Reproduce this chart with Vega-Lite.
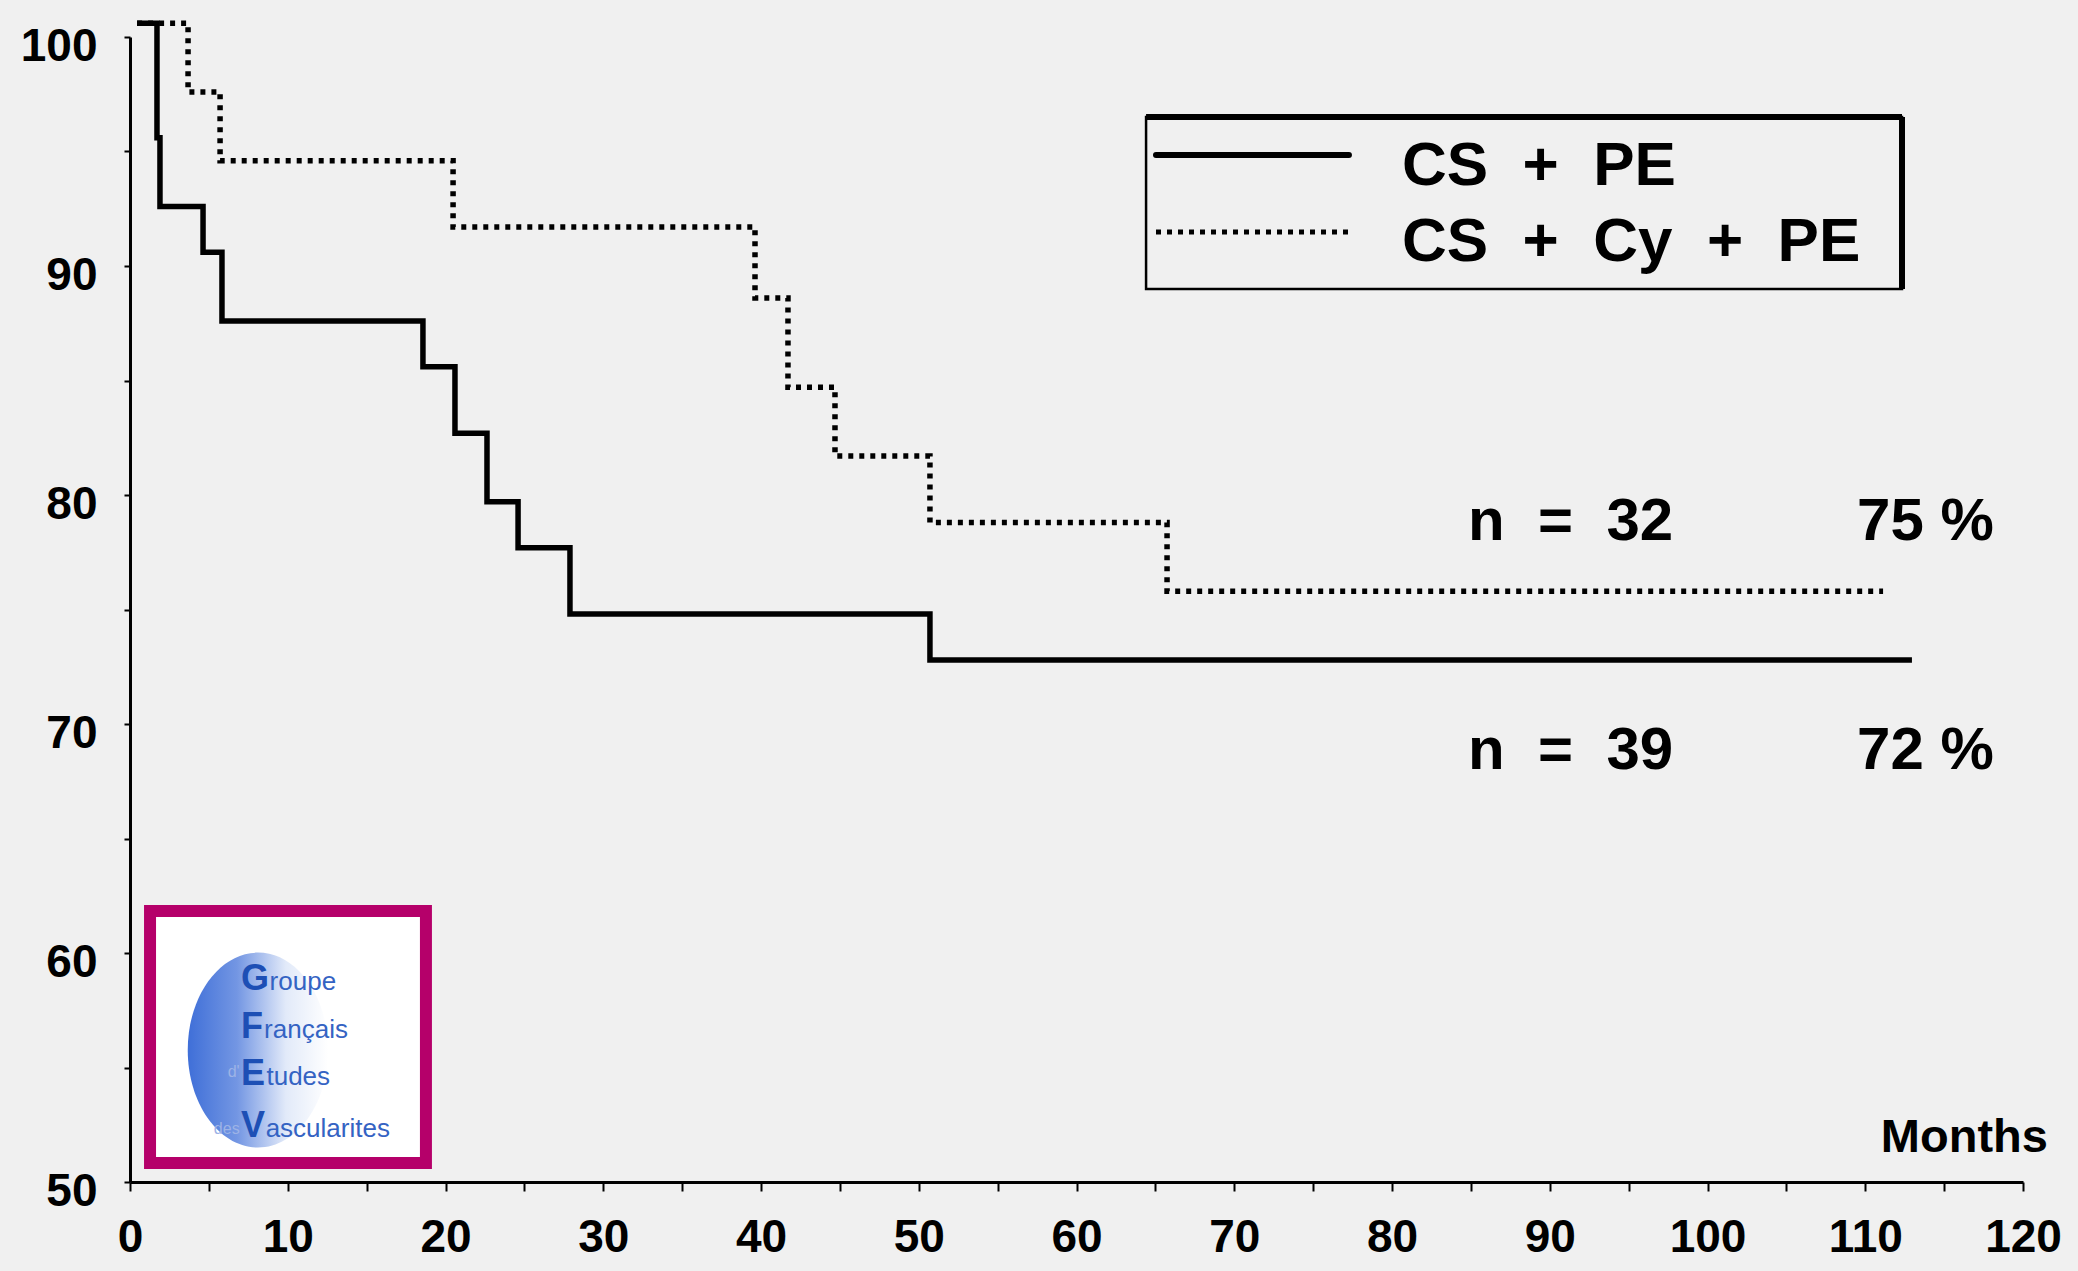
{
  "$schema": "https://vega.github.io/schema/vega-lite/v6.json",
  "width": 1893,
  "height": 1145,
  "autosize": {"type": "none"},
  "padding": {"left": 130, "top": 37, "right": 55, "bottom": 89},
  "background": "#f0f0f0",
  "config": {"view": {"stroke": null}},
  "data": {"values": [{}]},
  "datasets": {
    "km": [
      {"group": "CS + Cy + PE", "month": 0.45, "survival": 100.6},
      {"group": "CS + Cy + PE", "month": 3.68, "survival": 97.6},
      {"group": "CS + Cy + PE", "month": 5.71, "survival": 94.6},
      {"group": "CS + Cy + PE", "month": 20.48, "survival": 91.7},
      {"group": "CS + Cy + PE", "month": 39.62, "survival": 88.6},
      {"group": "CS + Cy + PE", "month": 41.71, "survival": 84.7},
      {"group": "CS + Cy + PE", "month": 44.69, "survival": 81.7},
      {"group": "CS + Cy + PE", "month": 50.71, "survival": 78.8},
      {"group": "CS + Cy + PE", "month": 65.74, "survival": 75.8},
      {"group": "CS + Cy + PE", "month": 111.13, "survival": 75.8},
      {"group": "CS + PE", "month": 0.45, "survival": 100.6},
      {"group": "CS + PE", "month": 1.71, "survival": 95.6},
      {"group": "CS + PE", "month": 1.9, "survival": 92.6},
      {"group": "CS + PE", "month": 4.63, "survival": 90.6},
      {"group": "CS + PE", "month": 5.83, "survival": 87.6},
      {"group": "CS + PE", "month": 18.57, "survival": 85.6},
      {"group": "CS + PE", "month": 20.6, "survival": 82.7},
      {"group": "CS + PE", "month": 22.63, "survival": 79.7},
      {"group": "CS + PE", "month": 24.6, "survival": 77.7},
      {"group": "CS + PE", "month": 27.89, "survival": 74.8},
      {"group": "CS + PE", "month": 50.71, "survival": 72.8},
      {"group": "CS + PE", "month": 112.96, "survival": 72.8}
    ]
  },
  "layer": [
    {
      "data": {"name": "km"},
      "mark": {"type": "line", "interpolate": "step-after", "strokeWidth": 5.5, "color": "black", "strokeCap": "butt"},
      "encoding": {
        "x": {
          "field": "month", "type": "quantitative",
          "scale": {"domain": [0, 120], "nice": false, "zero": false},
          "axis": {
            "values": [0,5,10,15,20,25,30,35,40,45,50,55,60,65,70,75,80,85,90,95,100,105,110,115,120],
            "labelExpr": "datum.value % 10 === 0 ? datum.label : ''",
            "title": null, "grid": false,
            "domainColor": "black", "domainWidth": 3,
            "tickColor": "black", "tickWidth": 2, "tickSize": 9,
            "labelFont": "Liberation Sans", "labelFontWeight": "bold", "labelFontSize": 46, "labelColor": "black",
            "labelPadding": 24, "labelFlush": false, "labelOverlap": false, "labelBound": false
          }
        },
        "y": {
          "field": "survival", "type": "quantitative",
          "scale": {"domain": [50, 100], "nice": false, "zero": false},
          "axis": {
            "values": [50,55,60,65,70,75,80,85,90,95,100],
            "labelExpr": "datum.value % 10 === 0 ? datum.label : ''",
            "title": null, "grid": false,
            "domainColor": "black", "domainWidth": 3,
            "tickColor": "black", "tickWidth": 2, "tickSize": 6,
            "labelFont": "Liberation Sans", "labelFontWeight": "bold", "labelFontSize": 46, "labelColor": "black",
            "labelPadding": 27, "labelOffset": 9, "labelFlush": false, "labelOverlap": false, "labelBound": false
          }
        },
        "strokeDash": {
          "field": "group", "type": "nominal",
          "scale": {"domain": ["CS + Cy + PE", "CS + PE"], "range": [[5, 6], [1, 0]]},
          "legend": null
        }
      }
    },
    {
      "mark": {"type": "rect", "fill": "white", "stroke": "#b5006a", "strokeWidth": 12},
      "encoding": {
        "x": {"datum": 1.27, "type": "quantitative", "scale": {"domain": [0, 120]}},
        "x2": {"datum": 18.76},
        "y": {"datum": 61.83, "type": "quantitative", "scale": {"domain": [50, 100]}},
        "y2": {"datum": 50.83}
      }
    },
    {
      "mark": {
        "type": "point", "filled": true, "strokeWidth": 0, "opacity": 1, "size": 38025,
        "shape": "M -0.72 0 A 0.72 1 0 1 1 0.72 0 A 0.72 1 0 1 1 -0.72 0 Z",
        "fill": {"gradient": "linear", "x1": 0, "x2": 1, "y1": 0, "y2": 0, "stops": [
          {"offset": 0, "color": "#3f6fd8"},
          {"offset": 0.35, "color": "#7396e3"},
          {"offset": 0.7, "color": "#e2eaf9"},
          {"offset": 1, "color": "#ffffff"}
        ]}
      },
      "encoding": {
        "x": {"datum": 8.11, "type": "quantitative", "scale": {"domain": [0, 120]}},
        "y": {"datum": 55.76, "type": "quantitative", "scale": {"domain": [50, 100]}}
      }
    },
    {
      "layer": [
        {"mark": {"type": "text", "text": "G", "align": "left", "baseline": "alphabetic", "font": "Liberation Sans", "fontWeight": "bold", "fontSize": 36, "color": "#1d4fb5"},
         "encoding": {"x": {"datum": 7.04, "type": "quantitative", "scale": {"domain": [0, 120]}}, "y": {"datum": 58.38, "type": "quantitative", "scale": {"domain": [50, 100]}}}},
        {"mark": {"type": "text", "text": "F", "align": "left", "baseline": "alphabetic", "font": "Liberation Sans", "fontWeight": "bold", "fontSize": 36, "color": "#1d4fb5"},
         "encoding": {"x": {"datum": 7.04, "type": "quantitative", "scale": {"domain": [0, 120]}}, "y": {"datum": 56.29, "type": "quantitative", "scale": {"domain": [50, 100]}}}},
        {"mark": {"type": "text", "text": "E", "align": "left", "baseline": "alphabetic", "font": "Liberation Sans", "fontWeight": "bold", "fontSize": 36, "color": "#1d4fb5"},
         "encoding": {"x": {"datum": 7.04, "type": "quantitative", "scale": {"domain": [0, 120]}}, "y": {"datum": 54.24, "type": "quantitative", "scale": {"domain": [50, 100]}}}},
        {"mark": {"type": "text", "text": "V", "align": "left", "baseline": "alphabetic", "font": "Liberation Sans", "fontWeight": "bold", "fontSize": 36, "color": "#1d4fb5"},
         "encoding": {"x": {"datum": 7.04, "type": "quantitative", "scale": {"domain": [0, 120]}}, "y": {"datum": 51.97, "type": "quantitative", "scale": {"domain": [50, 100]}}}},
        {"mark": {"type": "text", "text": "roupe", "align": "left", "baseline": "alphabetic", "font": "Liberation Sans", "fontSize": 26, "color": "#3463c3"},
         "encoding": {"x": {"datum": 8.85, "type": "quantitative", "scale": {"domain": [0, 120]}}, "y": {"datum": 58.38, "type": "quantitative", "scale": {"domain": [50, 100]}}}},
        {"mark": {"type": "text", "text": "rançais", "align": "left", "baseline": "alphabetic", "font": "Liberation Sans", "fontSize": 26, "color": "#3463c3"},
         "encoding": {"x": {"datum": 8.5, "type": "quantitative", "scale": {"domain": [0, 120]}}, "y": {"datum": 56.29, "type": "quantitative", "scale": {"domain": [50, 100]}}}},
        {"mark": {"type": "text", "text": "tudes", "align": "left", "baseline": "alphabetic", "font": "Liberation Sans", "fontSize": 26, "color": "#3463c3"},
         "encoding": {"x": {"datum": 8.65, "type": "quantitative", "scale": {"domain": [0, 120]}}, "y": {"datum": 54.24, "type": "quantitative", "scale": {"domain": [50, 100]}}}},
        {"mark": {"type": "text", "text": "ascularites", "align": "left", "baseline": "alphabetic", "font": "Liberation Sans", "fontSize": 26, "color": "#3463c3"},
         "encoding": {"x": {"datum": 8.6, "type": "quantitative", "scale": {"domain": [0, 120]}}, "y": {"datum": 51.97, "type": "quantitative", "scale": {"domain": [50, 100]}}}},
        {"mark": {"type": "text", "text": "d'", "align": "right", "baseline": "alphabetic", "font": "Liberation Sans", "fontSize": 16, "color": "#9db3e6"},
         "encoding": {"x": {"datum": 6.95, "type": "quantitative", "scale": {"domain": [0, 120]}}, "y": {"datum": 54.6, "type": "quantitative", "scale": {"domain": [50, 100]}}}},
        {"mark": {"type": "text", "text": "des", "align": "right", "baseline": "alphabetic", "font": "Liberation Sans", "fontSize": 16, "color": "#9db3e6"},
         "encoding": {"x": {"datum": 6.95, "type": "quantitative", "scale": {"domain": [0, 120]}}, "y": {"datum": 52.1, "type": "quantitative", "scale": {"domain": [50, 100]}}}}
      ]
    },
    {
      "mark": {"type": "rect", "fill": null, "fillOpacity": 0, "stroke": "black", "strokeWidth": 2.5},
      "encoding": {
        "x": {"datum": 64.41, "type": "quantitative", "scale": {"domain": [0, 120]}},
        "x2": {"datum": 112.33},
        "y": {"datum": 96.51, "type": "quantitative", "scale": {"domain": [50, 100]}},
        "y2": {"datum": 89.0}
      }
    },
    {
      "mark": {"type": "rule", "color": "black", "strokeWidth": 6},
      "encoding": {
        "x": {"datum": 64.41, "type": "quantitative", "scale": {"domain": [0, 120]}},
        "x2": {"datum": 112.33},
        "y": {"datum": 96.51, "type": "quantitative", "scale": {"domain": [50, 100]}}
      }
    },
    {
      "mark": {"type": "rule", "color": "black", "strokeWidth": 6},
      "encoding": {
        "x": {"datum": 112.33, "type": "quantitative", "scale": {"domain": [0, 120]}},
        "y": {"datum": 96.51, "type": "quantitative", "scale": {"domain": [50, 100]}},
        "y2": {"datum": 89.0}
      }
    },
    {
      "mark": {"type": "rule", "color": "black", "strokeWidth": 6, "strokeCap": "round"},
      "encoding": {
        "x": {"datum": 65.04, "type": "quantitative", "scale": {"domain": [0, 120]}},
        "x2": {"datum": 77.27},
        "y": {"datum": 94.85, "type": "quantitative", "scale": {"domain": [50, 100]}}
      }
    },
    {
      "mark": {"type": "rule", "color": "black", "strokeWidth": 5, "strokeDash": [5, 6]},
      "encoding": {
        "x": {"datum": 65.04, "type": "quantitative", "scale": {"domain": [0, 120]}},
        "x2": {"datum": 77.27},
        "y": {"datum": 91.48, "type": "quantitative", "scale": {"domain": [50, 100]}}
      }
    },
    {
      "mark": {"type": "text", "text": "CS\u00a0\u00a0+\u00a0\u00a0PE", "align": "left", "baseline": "alphabetic", "font": "Liberation Sans", "fontWeight": "bold", "fontSize": 62, "color": "black"},
      "encoding": {
        "x": {"datum": 80.63, "type": "quantitative", "scale": {"domain": [0, 120]}},
        "y": {"datum": 93.54, "type": "quantitative", "scale": {"domain": [50, 100]}}
      }
    },
    {
      "mark": {"type": "text", "text": "CS\u00a0\u00a0+\u00a0\u00a0Cy\u00a0\u00a0+\u00a0\u00a0PE", "align": "left", "baseline": "alphabetic", "font": "Liberation Sans", "fontWeight": "bold", "fontSize": 62, "color": "black"},
      "encoding": {
        "x": {"datum": 80.63, "type": "quantitative", "scale": {"domain": [0, 120]}},
        "y": {"datum": 90.22, "type": "quantitative", "scale": {"domain": [50, 100]}}
      }
    },
    {
      "mark": {"type": "text", "text": "n\u00a0\u00a0=\u00a0\u00a032", "align": "left", "baseline": "alphabetic", "font": "Liberation Sans", "fontWeight": "bold", "fontSize": 60, "color": "black"},
      "encoding": {
        "x": {"datum": 84.82, "type": "quantitative", "scale": {"domain": [0, 120]}},
        "y": {"datum": 78.03, "type": "quantitative", "scale": {"domain": [50, 100]}}
      }
    },
    {
      "mark": {"type": "text", "text": "75 %", "align": "left", "baseline": "alphabetic", "font": "Liberation Sans", "fontWeight": "bold", "fontSize": 60, "color": "black"},
      "encoding": {
        "x": {"datum": 109.48, "type": "quantitative", "scale": {"domain": [0, 120]}},
        "y": {"datum": 78.03, "type": "quantitative", "scale": {"domain": [50, 100]}}
      }
    },
    {
      "mark": {"type": "text", "text": "n\u00a0\u00a0=\u00a0\u00a039", "align": "left", "baseline": "alphabetic", "font": "Liberation Sans", "fontWeight": "bold", "fontSize": 60, "color": "black"},
      "encoding": {
        "x": {"datum": 84.82, "type": "quantitative", "scale": {"domain": [0, 120]}},
        "y": {"datum": 68.03, "type": "quantitative", "scale": {"domain": [50, 100]}}
      }
    },
    {
      "mark": {"type": "text", "text": "72 %", "align": "left", "baseline": "alphabetic", "font": "Liberation Sans", "fontWeight": "bold", "fontSize": 60, "color": "black"},
      "encoding": {
        "x": {"datum": 109.48, "type": "quantitative", "scale": {"domain": [0, 120]}},
        "y": {"datum": 68.03, "type": "quantitative", "scale": {"domain": [50, 100]}}
      }
    },
    {
      "mark": {"type": "text", "text": "Months", "align": "right", "baseline": "alphabetic", "font": "Liberation Sans", "fontWeight": "bold", "fontSize": 47, "color": "black"},
      "encoding": {
        "x": {"datum": 121.58, "type": "quantitative", "scale": {"domain": [0, 120]}},
        "y": {"datum": 51.31, "type": "quantitative", "scale": {"domain": [50, 100]}}
      }
    }
  ]
}
